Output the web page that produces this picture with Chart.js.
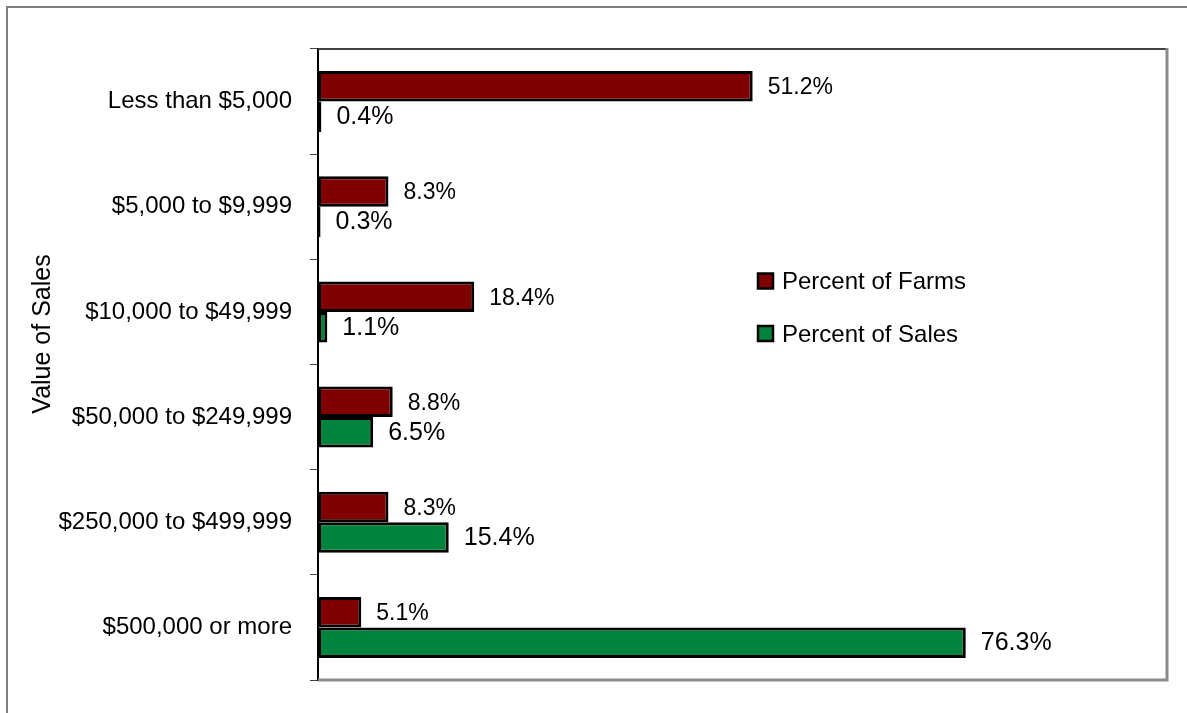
<!DOCTYPE html>
<html><head><meta charset="utf-8">
<script src="https://cdn.jsdelivr.net/npm/chart.js@4/dist/chart.umd.min.js"></script>
<style>html,body{margin:0;padding:0;background:#fff;overflow:hidden}</style>
</head><body>
<canvas id="c" width="1187" height="713" style="display:block;width:1187px;height:713px"></canvas>
<script>
const categories = ['Less than $5,000', '$5,000 to $9,999', '$10,000 to $49,999', '$50,000 to $249,999', '$250,000 to $499,999', '$500,000 or more'];
const seriesNames = ['Percent of Farms', 'Percent of Sales'];
const percentOfFarms = [51.2, 8.3, 18.4, 8.8, 8.3, 5.1];
const percentOfSales = [0.4, 0.3, 1.1, 6.5, 15.4, 76.3];
const axisTitle = 'Value of Sales';

const FONT = '"Liberation Sans", Arial, sans-serif';
const farmsColor = '#800000';
const salesColor = '#00843D';

const framePlugin = {
  id: 'frames',
  beforeDraw(chart) {
    const ctx = chart.ctx;
    ctx.save();
    ctx.fillStyle = '#fff';
    ctx.fillRect(0, 0, chart.width, chart.height);
    ctx.strokeStyle = '#7f7f7f';
    ctx.lineWidth = 2;
    ctx.beginPath();
    ctx.moveTo(7, chart.height + 5);
    ctx.lineTo(7, 7);
    ctx.lineTo(chart.width + 5, 7);
    ctx.stroke();
    ctx.restore();
  },
  afterDraw(chart) {
    const ctx = chart.ctx;
    const a = chart.chartArea;
    ctx.save();
    ctx.strokeStyle = '#404040';
    ctx.lineWidth = 2;
    ctx.beginPath();
    ctx.moveTo(a.left, a.top);
    ctx.lineTo(a.right, a.top);
    ctx.stroke();
    ctx.strokeStyle = '#8a8a8a';
    ctx.lineWidth = 3;
    ctx.beginPath();
    ctx.moveTo(a.right, a.top - 1);
    ctx.lineTo(a.right, a.bottom);
    ctx.lineTo(a.left, a.bottom);
    ctx.stroke();
    // axis title
    ctx.fillStyle = '#000';
    ctx.font = '25px ' + FONT;
    ctx.textAlign = 'center';
    ctx.textBaseline = 'middle';
    ctx.translate(43, 334);
    ctx.rotate(-Math.PI / 2);
    ctx.fillText(axisTitle, 0, 0);
    ctx.restore();
    // legend
    ctx.save();
    const rows = [281.5, 334];
    chart.data.datasets.forEach((ds, i) => {
      const cy = rows[i];
      ctx.fillStyle = ds.backgroundColor;
      ctx.fillRect(758, cy - 8, 15, 15);
      ctx.strokeStyle = '#000';
      ctx.lineWidth = 2.5;
      ctx.strokeRect(758, cy - 8, 15, 15);
      ctx.fillStyle = '#000';
      ctx.font = '24px ' + FONT;
      ctx.textAlign = 'left';
      ctx.textBaseline = 'middle';
      ctx.fillText(ds.label, 782, cy + 1);
    });
    ctx.restore();
  },
  afterDatasetsDraw(chart) {
    const ctx = chart.ctx;
    ctx.save();
    ctx.fillStyle = '#000';
    ctx.textAlign = 'left';
    ctx.textBaseline = 'middle';
    chart.data.datasets.forEach((ds, di) => {
      const meta = chart.getDatasetMeta(di);
      ctx.font = (di === 0 ? '23px ' : '25px ') + FONT;
      meta.data.forEach((el, i) => {
        ctx.fillText(ds.data[i].toFixed(1) + '%', el.x + 15, el.y + (di === 0 ? 1.5 : 0.5));
      });
    });
    ctx.restore();
  }
};

new Chart(document.getElementById('c'), {
  type: 'bar',
  data: {
    labels: categories,
    datasets: [
      { label: seriesNames[0], data: percentOfFarms, backgroundColor: farmsColor, borderColor: '#000', borderWidth: 3, borderSkipped: false },
      { label: seriesNames[1], data: percentOfSales, backgroundColor: salesColor, borderColor: '#000', borderWidth: 3, borderSkipped: false }
    ]
  },
  options: {
    indexAxis: 'y',
    responsive: false,
    devicePixelRatio: 1,
    animation: false,
    categoryPercentage: 0.58,
    barPercentage: 1.0,
    layout: { padding: { left: 0, top: 49, right: 20, bottom: 33 } },
    plugins: { legend: { display: false }, tooltip: { enabled: false } },
    scales: {
      x: { display: false, min: 0, max: 100 },
      y: {
        afterFit(scale) { scale.width = 318; },
        grid: { drawOnChartArea: false, drawTicks: true, tickLength: 8, color: '#444', lineWidth: 1 },
        border: { display: true, color: '#000', width: 2 },
        ticks: { color: '#000', font: { family: FONT, size: 24 }, padding: 18 }
      }
    }
  },
  plugins: [framePlugin]
});
</script>
</body></html>
